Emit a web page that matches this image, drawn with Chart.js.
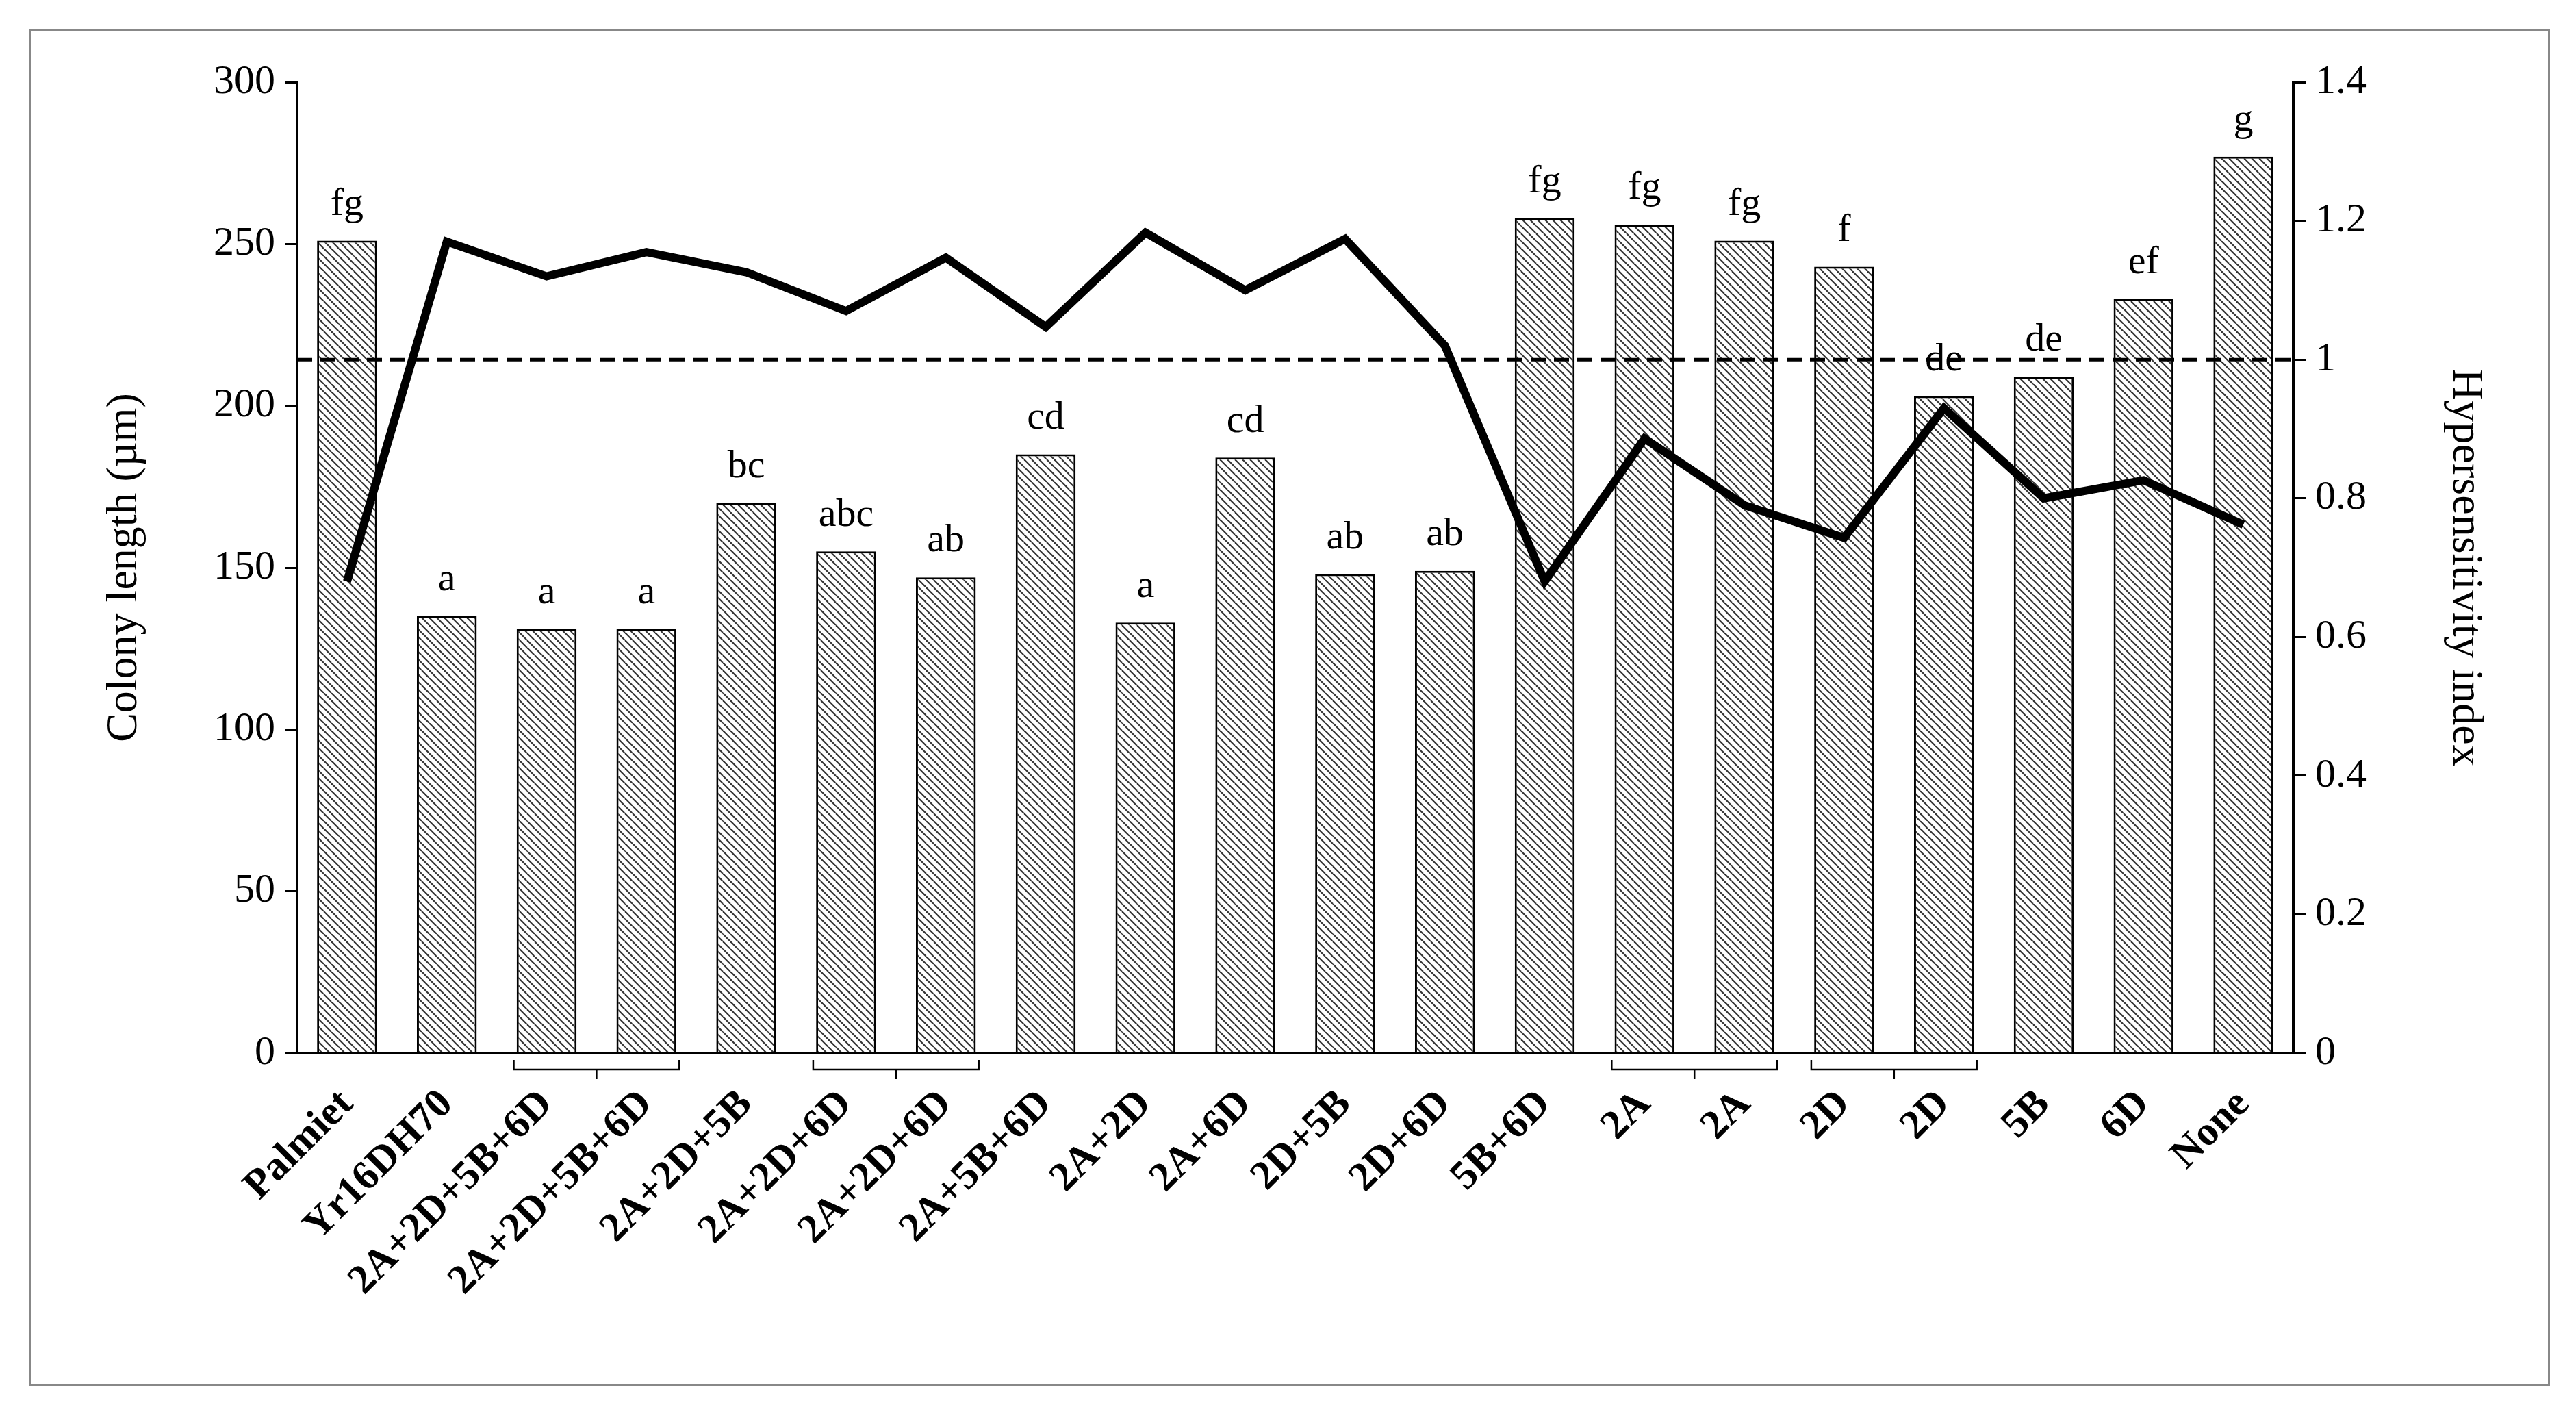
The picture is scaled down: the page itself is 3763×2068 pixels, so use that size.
<!DOCTYPE html>
<html><head><meta charset="utf-8">
<script src="https://cdn.jsdelivr.net/npm/chart.js@4"></script>
<style>
html,body{margin:0;padding:0;background:#fff;}
#frame{position:absolute;left:43px;top:43px;width:3676px;height:1975px;border:3px solid #888;}
canvas{position:absolute;left:0;top:0;}
</style></head><body>
<div id="frame"></div>
<canvas id="c" width="3763" height="2068"></canvas>
<script>
const categories = ["Palmiet","Yr16DH70","2A+2D+5B+6D","2A+2D+5B+6D","2A+2D+5B","2A+2D+6D","2A+2D+6D","2A+5B+6D","2A+2D","2A+6D","2D+5B","2D+6D","5B+6D","2A","2A","2D","2D","5B","6D","None"];
const colonyLength = [251,135,131,131,170,155,147,185,133,184,148,149,258,256,251,243,203,209,233,277];
const hypersensitivity = [0.68,1.17,1.12,1.155,1.126,1.07,1.147,1.047,1.183,1.10,1.174,1.02,0.68,0.886,0.79,0.743,0.93,0.80,0.826,0.762];
const letters = ["fg","a","a","a","bc","abc","ab","cd","a","cd","ab","ab","fg","fg","fg","f","de","de","ef","g"];
const bracketPairs = [[2,3],[5,6],[13,14],[15,16]];
const leftTicks = [0,50,100,150,200,250,300];
const rightTicks = [0,0.2,0.4,0.6,0.8,1,1.2,1.4];

const FONT = "'Liberation Serif','Times New Roman',serif";
const pc = document.createElement('canvas'); pc.width = 11; pc.height = 11;
const p = pc.getContext('2d');
p.fillStyle = '#fff'; p.fillRect(0,0,11,11);
p.strokeStyle = '#333'; p.lineWidth = 2.2;
for (let o=-11;o<=11;o+=11){ p.beginPath(); p.moveTo(o,0); p.lineTo(o+11,11); p.stroke(); }
const ctx0 = document.getElementById('c').getContext('2d');
const hatch = ctx0.createPattern(pc,'repeat');

const overlay = {
  id:'overlay',
  afterDatasetsDraw(chart){
    const c = chart.ctx, x = chart.scales.x, y = chart.scales.y, y1 = chart.scales.y1;
    c.save();
    c.strokeStyle = '#000'; c.lineWidth = 5; c.setLineDash([22,12]);
    c.beginPath(); c.moveTo(chart.chartArea.left, y1.getPixelForValue(1)); c.lineTo(chart.chartArea.right, y1.getPixelForValue(1)); c.stroke();
    c.setLineDash([]);
    c.fillStyle = '#000'; c.font = '58px ' + FONT; c.textAlign = 'center'; c.textBaseline = 'bottom';
    letters.forEach((l,i)=>{ c.fillText(l, x.getPixelForValue(i), y.getPixelForValue(colonyLength[i]) - 24); });
    const by = chart.chartArea.bottom + 24;
    c.lineWidth = 2.5;
    bracketPairs.forEach(([a,b])=>{
      const xa = x.getPixelForValue(a) - 48, xb = x.getPixelForValue(b) + 48, xm = (xa+xb)/2;
      c.beginPath(); c.moveTo(xa,by-14); c.lineTo(xa,by); c.lineTo(xb,by); c.lineTo(xb,by-14); c.stroke();
      c.beginPath(); c.moveTo(xm,by); c.lineTo(xm,by+14); c.stroke();
    });
    c.restore();
  }
};

new Chart(ctx0, {
  data: {
    labels: categories,
    datasets: [
      { type:'line', data: hypersensitivity, yAxisID:'y1', borderColor:'#000', borderWidth:12, pointRadius:0, tension:0, order:0 },
      { type:'bar', data: colonyLength, yAxisID:'y', backgroundColor: hatch, borderColor:'#000', borderWidth:3, categoryPercentage:1, barPercentage:0.6, order:1 }
    ]
  },
  options: {
    responsive:false, devicePixelRatio:1, animation:false,
    layout:{ padding:{ left:140, right:120, top:120, bottom:40 } },
    plugins:{ legend:{display:false}, tooltip:{enabled:false} },
    scales:{
      x:{ grid:{ display:false, drawTicks:false }, border:{ color:'#000', width:4 },
          ticks:{ color:'#000', font:{ family:FONT, size:60, weight:'bold' }, minRotation:45, maxRotation:45, padding:40, autoSkip:false },
          afterFit(s){ s.height = 490; } },
      y:{ position:'left', min:0, max:300, grid:{ drawOnChartArea:false, tickLength:18, color:'#000', lineWidth:3 }, border:{ color:'#000', width:4 },
          afterBuildTicks(s){ s.ticks = leftTicks.map(v=>({value:v})); },
          ticks:{ color:'#000', font:{ family:FONT, size:60 }, padding:14 },
          title:{ display:true, text:'Colony length (µm)', color:'#000', font:{ family:FONT, size:64 } },
          afterFit(s){ s.width = 294; } },
      y1:{ position:'right', min:0, max:1.4, grid:{ drawOnChartArea:false, tickLength:18, color:'#000', lineWidth:3 }, border:{ color:'#000', width:4 },
          afterBuildTicks(s){ s.ticks = rightTicks.map(v=>({value:v})); },
          ticks:{ color:'#000', font:{ family:FONT, size:60 }, padding:14, callback:v=>String(+v.toFixed(1)) },
          title:{ display:true, text:'Hypersensitivity index', color:'#000', font:{ family:FONT, size:64 } },
          afterFit(s){ s.width = 293; } }
    }
  },
  plugins:[overlay]
});
</script></body></html>
